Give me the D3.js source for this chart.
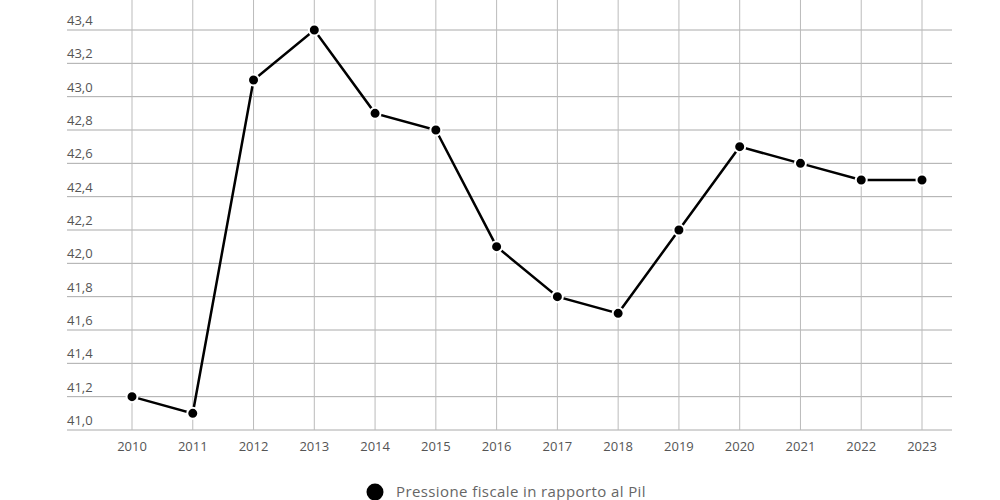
<!DOCTYPE html>
<html><head><meta charset="utf-8">
<script src="https://cdn.jsdelivr.net/npm/d3@7"></script>
<style>body{margin:0;background:#fff}svg{display:block}</style>
</head><body>
<svg id="c" width="1000" height="500"></svg>
<script>
const years = [2010,2011,2012,2013,2014,2015,2016,2017,2018,2019,2020,2021,2022,2023];
const values = [41.2,41.1,43.1,43.4,42.9,42.8,42.1,41.8,41.7,42.2,42.7,42.6,42.5,42.5];
const yTicks = [41.0,41.2,41.4,41.6,41.8,42.0,42.2,42.4,42.6,42.8,43.0,43.2,43.4];
const seriesName = "Pressione fiscale in rapporto al Pil";

const svg = d3.select("#c");
const x = d3.scaleLinear().domain([2010,2023]).range([132,922]);
const y = d3.scaleLinear().domain([41.0,43.4]).range([430,30]);
const fmt = d => d.toFixed(1).replace(".", ",");

const g = svg.append("g");
// horizontal grid
g.selectAll("line.h").data(yTicks).join("line")
  .attr("x1",67).attr("x2",952)
  .attr("y1",d=>y(d)).attr("y2",d=>y(d))
  .attr("stroke","#aaa").attr("stroke-width",1);
// vertical grid
g.selectAll("line.v").data(years).join("line")
  .attr("x1",d=>x(d)).attr("x2",d=>x(d))
  .attr("y1",0).attr("y2",y(41.0))
  .attr("stroke","#bbb").attr("stroke-width",1);
// y labels
g.selectAll("text.y").data(yTicks).join("text")
  .attr("x",67).attr("y",d=>y(d)-5)
  .attr("font-family","Open Sans, sans-serif").attr("font-size",13)
  .attr("fill","#555").text(fmt);
// x labels
g.selectAll("text.x").data(years).join("text")
  .attr("x",d=>x(d)).attr("y",451).attr("text-anchor","middle")
  .attr("font-family","Open Sans, sans-serif").attr("font-size",13)
  .attr("fill","#555").text(d=>d);

const data = years.map((yr,i)=>({yr,v:values[i]}));
svg.append("path").datum(data)
  .attr("fill","none").attr("stroke","#000").attr("stroke-width",2.5)
  .attr("d", d3.line().x(d=>x(d.yr)).y(d=>y(d.v)));
svg.selectAll("circle.p").data(data).join("circle")
  .attr("cx",d=>x(d.yr)).attr("cy",d=>y(d.v)).attr("r",5.5)
  .attr("fill","#000").attr("stroke","#fff").attr("stroke-width",2);

// legend
svg.append("circle").attr("cx",375).attr("cy",492).attr("r",8.5).attr("fill","#000");
svg.append("text").attr("x",396).attr("y",497)
  .attr("font-family","Open Sans, sans-serif").attr("font-size",15)
  .attr("letter-spacing",0.4)
  .attr("fill","#666").text(seriesName);
</script>
</body></html>
